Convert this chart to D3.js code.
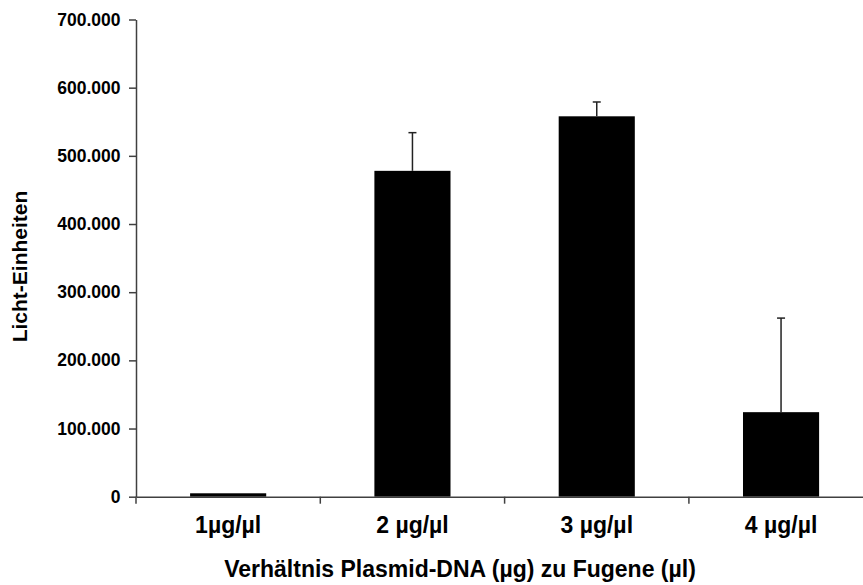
<!DOCTYPE html>
<html>
<head>
<meta charset="utf-8">
<script src="https://cdn.jsdelivr.net/npm/d3@7"></script>
<style>
  html, body { margin: 0; padding: 0; background: #fff; }
  svg { display: block; overflow: hidden; }
  text { font-family: "Liberation Sans", Arial, sans-serif; font-weight: bold; fill: #000; }
</style>
</head>
<body>
<svg id="chart" width="863" height="585"></svg>
<script>
// Luciferase light units for different plasmid-DNA : Fugene ratios
const categories = ["1\u00b5g/\u00b5l", "2 \u00b5g/\u00b5l", "3 \u00b5g/\u00b5l", "4 \u00b5g/\u00b5l"];
const means = [5000, 478000, 558000, 124000];
const errors = [0, 56000, 21000, 138000];
const yTicks = [0, 100000, 200000, 300000, 400000, 500000, 600000, 700000];
const xTitle = "Verh\u00e4ltnis Plasmid-DNA (\u00b5g) zu Fugene (\u00b5l)";
const yTitle = "Licht-Einheiten";

const svg = d3.select("#chart");
const margin = { left: 136, top: 19.5 };
const plotH = 477.2;
const step = 184.3;
const plotW = step * categories.length;

const x = d3.scaleBand().domain(categories).range([margin.left, margin.left + plotW]).padding(0);
const y = d3.scaleLinear().domain([0, 700000]).range([margin.top + plotH, margin.top]);
const barW = x.bandwidth() * 0.413;
const axisColor = "#404040";

// bars
svg.append("g").selectAll("rect").data(categories).join("rect")
  .attr("x", d => x(d) + (x.bandwidth() - barW) / 2)
  .attr("width", barW)
  .attr("y", (d, i) => y(means[i]))
  .attr("height", (d, i) => y(0) - y(means[i]))
  .attr("fill", "#000");

// upper error bars
const eb = svg.append("g").attr("stroke", "#222").attr("stroke-width", 1.5);
categories.forEach((c, i) => {
  if (!errors[i]) return;
  const cx = x(c) + x.bandwidth() / 2;
  eb.append("line").attr("x1", cx).attr("x2", cx)
    .attr("y1", y(means[i])).attr("y2", y(means[i] + errors[i]));
  eb.append("line").attr("x1", cx - 4).attr("x2", cx + 4)
    .attr("y1", y(means[i] + errors[i])).attr("y2", y(means[i] + errors[i]));
});

// y axis
const fmt = v => v === 0 ? "0" : d3.format(",")(v).replace(/,/g, ".");
const yAxis = svg.append("g").attr("transform", `translate(${margin.left},0)`)
  .call(d3.axisLeft(y).tickValues(yTicks).tickFormat(fmt).tickSize(7).tickPadding(8.5).tickSizeOuter(0));
yAxis.select(".domain").attr("stroke", axisColor).attr("stroke-width", 1.5);
yAxis.selectAll(".tick line").attr("stroke", axisColor).attr("stroke-width", 1.5);
yAxis.selectAll(".tick text").style("font-size", "17.5px").attr("font-family", null).attr("fill", "#000");

// x axis
const xAxis = svg.append("g").attr("transform", `translate(0,${y(0)})`)
  .call(d3.axisBottom(x).tickSize(0).tickPadding(20).tickSizeOuter(0));
xAxis.select(".domain").attr("stroke", axisColor).attr("stroke-width", 1.5);
xAxis.selectAll(".tick text").style("font-size", "23px").attr("font-family", null).attr("fill", "#000");
// category separators below the axis
const seps = d3.range(categories.length + 1).map(k => margin.left + k * step);
xAxis.selectAll("line.sep").data(seps).join("line").attr("class", "sep")
  .attr("x1", d => d).attr("x2", d => d).attr("y1", 0).attr("y2", 7)
  .attr("stroke", axisColor).attr("stroke-width", 1.5);

// axis titles
svg.append("text").attr("x", 460).attr("y", 577).attr("text-anchor", "middle")
  .style("font-size", "23px").text(xTitle);
svg.append("text").attr("transform", "translate(26.5,266.5) rotate(-90)").attr("text-anchor", "middle")
  .style("font-size", "21px").text(yTitle);
</script>
</body>
</html>
